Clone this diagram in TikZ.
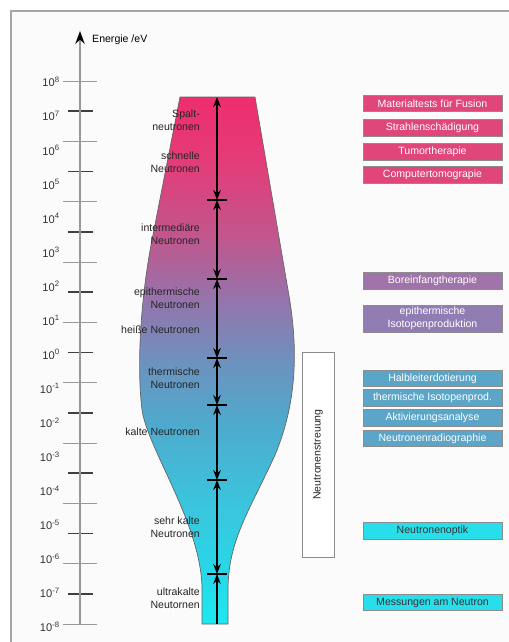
\documentclass[tikz,border=0pt]{standalone}
\usepackage{fontspec}
\setmainfont{Liberation Sans}
\usetikzlibrary{positioning,arrows.meta}
\definecolor{ftop}{RGB}{238,45,110}
\definecolor{fpinkb}{RGB}{228,60,120}
\definecolor{fmauve}{RGB}{195,85,140}
\definecolor{fpurple}{RGB}{150,115,170}
\definecolor{flilac}{RGB}{110,145,190}
\definecolor{fblue}{RGB}{78,170,205}
\definecolor{fteal}{RGB}{60,195,220}
\definecolor{fcyanb}{RGB}{40,215,232}
\definecolor{fbot}{RGB}{28,232,240}
\definecolor{apink}{RGB}{225,70,122}
\definecolor{abor}{RGB}{160,115,170}
\definecolor{aepi}{RGB}{145,125,180}
\definecolor{ablue}{RGB}{90,165,200}
\definecolor{acyan}{RGB}{40,222,235}
\pgfdeclareverticalshading{funnel}{100bp}{color(0bp)=(fbot); color(25bp)=(fbot);
  color(30bp)=(fcyanb); color(37bp)=(fteal); color(44bp)=(fblue); color(50bp)=(flilac);
  color(56bp)=(fpurple); color(62bp)=(fmauve); color(69bp)=(fpinkb); color(75bp)=(ftop);
  color(100bp)=(ftop)}

\begin{document}
\begin{tikzpicture}[x=0.03cm, y=-0.03cm,
  every node/.style={font=\fontsize{9}{11}\selectfont},
  >={Stealth[length=8.5pt, width=6.5pt]},
  longtick/.style={draw=gray!80, line width=0.8pt},
  shorttick/.style={draw=black!75, line width=1.5pt},
  nlabel/.style={anchor=east, align=right, text=black!85, inner sep=0pt},
  exp/.style={anchor=east, text=black!80, inner sep=0pt, font=\fontsize{9.5}{11}\selectfont},
  appbox/.style={draw=black!45, line width=0.8pt, minimum width=4.17cm,
    minimum height=0.5cm, inner sep=1pt, text=white, align=center}
]
\useasboundingbox (0,0) rectangle (509,642);
\fill[white] (0,0) rectangle (509,642);
\fill[gray!3] (11,11) rectangle (509,642);
\draw[gray!70, line width=1.5pt] (11,642) -- (11,11) -- (509,11);

% energy axis
\coordinate (axbot) at (80,624);
\coordinate (axtop) at (80,31);
\foreach \i in {0,2,...,18}
  \draw[longtick] (63,81+30.17*\i) -- (97,81+30.17*\i);
\foreach \i in {1,3,...,17}
  \draw[shorttick] (68,81+30.17*\i) -- (93,81+30.17*\i);
\draw[gray!80, line width=1.1pt, -{Stealth[length=11pt, width=8pt, color=black]}] (axbot) -- (axtop);
\node[anchor=west, inner sep=0pt] (elabel) at (92,40) {Energie /eV};
\foreach \e [count=\k from 0] in {8,7,6,5,4,3,2,1,0,-1,-2,-3,-4,-5,-6,-7,-8}
  \node[exp] (exp\k) at (60,82+34.06*\k) {10\textsuperscript{\e}};

% funnel
\path[shade, shading=funnel, draw=black!60, line width=0.6pt]
  (180,97) -- (255,97) -- (288,290)
  .. controls (298,345) and (298,400) .. (275,455)
  .. controls (250,510) and (228,540) .. (228,590) -- (228,624)
  -- (202,624) -- (202,590)
  .. controls (202,525) and (148,450) .. (142,410)
  .. controls (136,360) and (142,291) .. (152,240) -- cycle;

% ranges
\coordinate (s0) at (217,97);
\coordinate (s1) at (217,200);
\coordinate (s2) at (217,279);
\coordinate (s3) at (217,358);
\coordinate (s4) at (217,405);
\coordinate (s5) at (217,480);
\coordinate (s6) at (217,574);
\coordinate (s7) at (217,624);
\foreach \y in {200,279,358,405,480,574}
  \draw[black, line width=0.9pt] (207,\y) -- (227,\y);
\foreach \a/\b in {s0/s1,s1/s2,s2/s3,s3/s4,s4/s5,s5/s6}
  \draw[<->, line width=0.9pt] (\a) -- (\b);
\draw[<-, line width=0.9pt] (s6) -- (s7);

\node[nlabel] (spalt) at (200,120) {Spalt-\\neutronen};
\node[nlabel] (schnell) at (200,162) {schnelle\\Neutronen};
\node[nlabel] (inter) at (200,234) {intermediäre\\Neutronen};
\node[nlabel] (epi) at (200,298) {epithermische\\Neutronen};
\node[nlabel] (heiss) at (200,330) {heiße Neutronen};
\node[nlabel] (therm) at (200,378) {thermische\\Neutronen};
\node[nlabel] (kalt) at (200,432) {kalte Neutronen};
\node[nlabel] (skalt) at (200,527) {sehr kalte\\Neutronen};
\node[nlabel] (ukalt) at (200,598) {ultrakalte\\Neutornen};

% scattering
\node[draw=black!45, line width=0.8pt, fill=white, rotate=90, minimum width=6.15cm,
  minimum height=0.96cm, inner sep=0pt, text=black!85] (streu) at (318,454.5) {Neutronenstreuung};

% applications
\node[appbox, fill=apink] (mat) at (432.5,103.5) {Materialtests für Fusion};
\node[appbox, fill=apink, below=0.2cm of mat] (strahl) {Strahlenschädigung};
\node[appbox, fill=apink, below=0.2cm of strahl] (tumor) {Tumortherapie};
\node[appbox, fill=apink, below=0.15cm of tumor] (ct) {Computertomograpie};
\node[appbox, fill=abor] (bor) at (432.5,281) {Boreinfangtherapie};
\node[appbox, fill=aepi, minimum height=0.81cm] (isoepi) at (432.5,318.5) {epithermische\\Isotopenproduktion};
\node[appbox, fill=ablue] (halb) at (432.5,378.5) {Halbleiterdotierung};
\node[appbox, fill=ablue, below=0.06cm of halb] (isoth) {thermische Isotopenprod.};
\node[appbox, fill=ablue, below=0.06cm of isoth] (akt) {Aktivierungsanalyse};
\node[appbox, fill=ablue, below=0.09cm of akt] (radio) {Neutronenradiographie};
\node[appbox, fill=acyan, text=black!80] (optik) at (432.5,531) {Neutronenoptik};
\node[appbox, fill=acyan, text=black!80] (mess) at (432.5,602.5) {Messungen am Neutron};
\end{tikzpicture}
\end{document}
